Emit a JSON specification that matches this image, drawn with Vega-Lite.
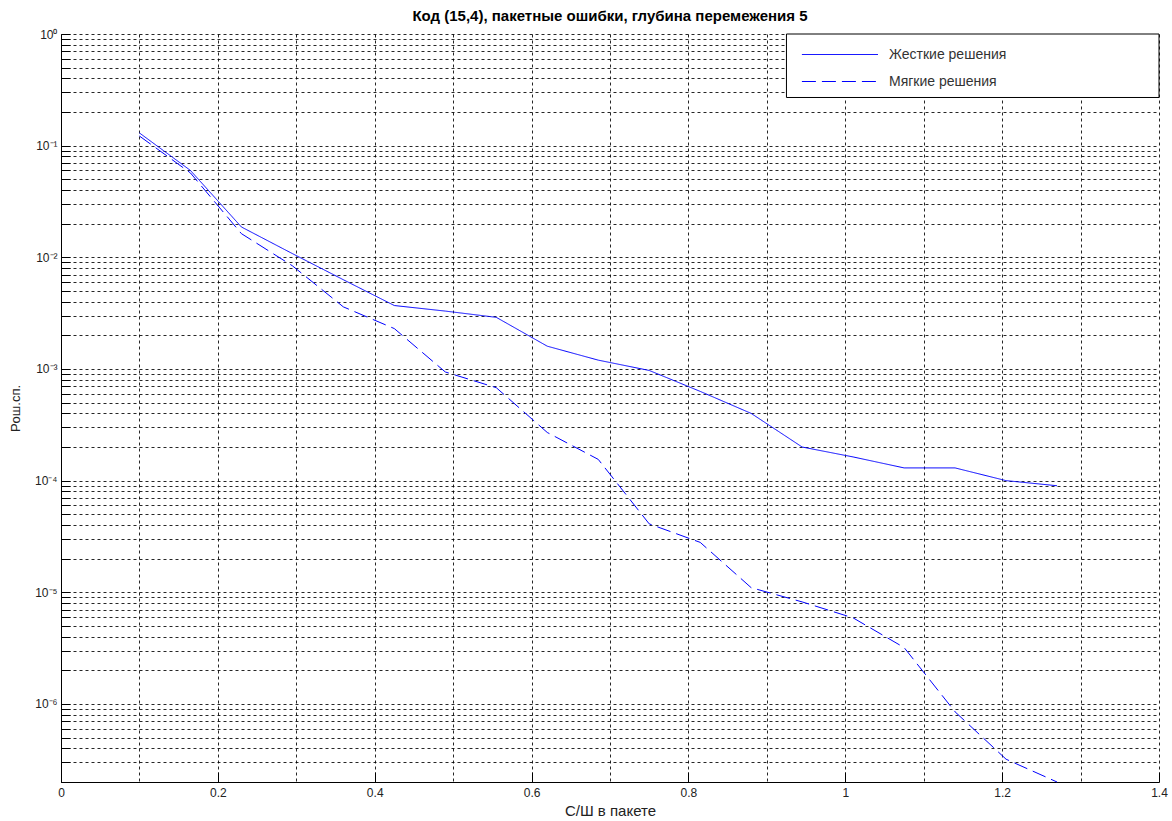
{
  "$schema": "https://vega.github.io/schema/vega-lite/v6.json",
  "width": 1098,
  "height": 748,
  "autosize": "none",
  "padding": {"left": 61, "top": 34, "right": 13, "bottom": 39},
  "background": "white",
  "title": {
    "text": "Код (15,4), пакетные ошибки, глубина перемежения 5",
    "font": "Liberation Sans",
    "fontSize": 15,
    "fontWeight": "bold",
    "color": "#000000",
    "anchor": "middle",
    "offset": 4
  },
  "config": {
    "view": {"stroke": null},
    "font": "Liberation Sans"
  },
  "data": {
    "values": [
      {"snr": 0.1, "p": 0.13, "decision": "Жесткие решения"},
      {"snr": 0.165, "p": 0.06, "decision": "Жесткие решения"},
      {"snr": 0.23, "p": 0.0187, "decision": "Жесткие решения"},
      {"snr": 0.295, "p": 0.0108, "decision": "Жесткие решения"},
      {"snr": 0.36, "p": 0.0063, "decision": "Жесткие решения"},
      {"snr": 0.425, "p": 0.0037, "decision": "Жесткие решения"},
      {"snr": 0.49, "p": 0.0033, "decision": "Жесткие решения"},
      {"snr": 0.555, "p": 0.0029, "decision": "Жесткие решения"},
      {"snr": 0.62, "p": 0.0016, "decision": "Жесткие решения"},
      {"snr": 0.685, "p": 0.0012, "decision": "Жесткие решения"},
      {"snr": 0.75, "p": 0.00097, "decision": "Жесткие решения"},
      {"snr": 0.815, "p": 0.00063, "decision": "Жесткие решения"},
      {"snr": 0.88, "p": 0.0004, "decision": "Жесткие решения"},
      {"snr": 0.945, "p": 0.0002, "decision": "Жесткие решения"},
      {"snr": 1.01, "p": 0.000163, "decision": "Жесткие решения"},
      {"snr": 1.075, "p": 0.00013, "decision": "Жесткие решения"},
      {"snr": 1.14, "p": 0.00013, "decision": "Жесткие решения"},
      {"snr": 1.205, "p": 0.0001, "decision": "Жесткие решения"},
      {"snr": 1.27, "p": 0.00009, "decision": "Жесткие решения"},
      {"snr": 0.1, "p": 0.122, "decision": "Мягкие решения"},
      {"snr": 0.165, "p": 0.057, "decision": "Мягкие решения"},
      {"snr": 0.23, "p": 0.0163, "decision": "Мягкие решения"},
      {"snr": 0.295, "p": 0.0084, "decision": "Мягкие решения"},
      {"snr": 0.36, "p": 0.0036, "decision": "Мягкие решения"},
      {"snr": 0.425, "p": 0.0023, "decision": "Мягкие решения"},
      {"snr": 0.49, "p": 0.00094, "decision": "Мягкие решения"},
      {"snr": 0.555, "p": 0.00068, "decision": "Мягкие решения"},
      {"snr": 0.62, "p": 0.00027, "decision": "Мягкие решения"},
      {"snr": 0.685, "p": 0.000155, "decision": "Мягкие решения"},
      {"snr": 0.75, "p": 0.000041, "decision": "Мягкие решения"},
      {"snr": 0.815, "p": 0.000028, "decision": "Мягкие решения"},
      {"snr": 0.88, "p": 0.000011, "decision": "Мягкие решения"},
      {"snr": 0.945, "p": 0.0000082, "decision": "Мягкие решения"},
      {"snr": 1.01, "p": 0.0000059, "decision": "Мягкие решения"},
      {"snr": 1.075, "p": 0.0000032, "decision": "Мягкие решения"},
      {"snr": 1.14, "p": 0.00000085, "decision": "Мягкие решения"},
      {"snr": 1.205, "p": 0.00000032, "decision": "Мягкие решения"},
      {"snr": 1.27, "p": 0.0000002, "decision": "Мягкие решения"}
    ]
  },
  "layer": [
    {
      "data": {"values": [{"box": "legend"}]},
      "mark": {"type": "rect", "fill": "#ffffff", "stroke": "#000000", "strokeWidth": 1},
      "encoding": {
        "x": {"datum": 0.925, "type": "quantitative"},
        "x2": {"datum": 1.4},
        "y": {"datum": 1, "type": "quantitative"},
        "y2": {"datum": 0.27}
      }
    },
    {
      "mark": {"type": "line", "strokeWidth": 1, "interpolate": "linear"},
      "encoding": {
        "x": {
          "field": "snr",
          "type": "quantitative",
          "scale": {"domain": [0, 1.4], "nice": false, "zero": false},
          "axis": {
            "values": [0, 0.05, 0.1, 0.15, 0.2, 0.25, 0.3, 0.35, 0.4, 0.45, 0.5, 0.55, 0.6, 0.65, 0.7, 0.75, 0.8, 0.85, 0.9, 0.95, 1, 1.05, 1.1, 1.15, 1.2, 1.25, 1.3, 1.35, 1.4],
            "labelExpr": "abs(datum.value * 5 - round(datum.value * 5)) < 0.001 ? format(datum.value, '~g') : ''",
            "labelOverlap": false,
            "labelFlush": false,
            "labelFontSize": 12,
            "labelColor": "#222222",
            "labelPadding": 15,
            "grid": true,
            "gridColor": "#000000",
            "gridDash": [3, 3],
            "gridOpacity": 0.85,
            "gridWidth": 1,
            "domainColor": "#000000",
            "domainWidth": 1,
            "tickColor": "#000000",
            "tickSize": -10,
            "tickOpacity": {"condition": {"test": "abs(datum.value * 5 - round(datum.value * 5)) < 0.001", "value": 1}, "value": 0},
            "title": "С/Ш в пакете",
            "titleFontSize": 15,
            "titleFontWeight": "normal",
            "titleColor": "#222222",
            "titlePadding": 5
          }
        },
        "y": {
          "field": "p",
          "type": "quantitative",
          "scale": {"type": "log", "domain": [2e-7, 1], "nice": false},
          "axis": {
            "values": [1, 0.9, 0.8, 0.7, 0.6, 0.5, 0.4, 0.3, 0.2, 0.1, 0.09, 0.08, 0.07, 0.06, 0.05, 0.04, 0.03, 0.02, 0.01, 0.009, 0.008, 0.007, 0.006, 0.005, 0.004, 0.003, 0.002, 0.001, 0.0009, 0.0008, 0.0007, 0.0006, 0.0005, 0.0004, 0.0003, 0.0002, 0.0001, 9e-5, 8e-5, 7e-5, 6e-5, 5e-5, 4e-5, 3e-5, 2e-5, 1e-5, 9e-6, 8e-6, 7e-6, 6e-6, 5e-6, 4e-6, 3e-6, 2e-6, 1e-6, 9e-7, 8e-7, 7e-7, 6e-7, 5e-7, 4e-7, 3e-7, 2e-7],
            "labelExpr": "abs(log(datum.value) / LN10 - round(log(datum.value) / LN10)) < 0.001 ? (round(log(datum.value) / LN10) == 0 ? '10⁰' : '10⁻' + ['⁰', '¹', '²', '³', '⁴', '⁵', '⁶'][-round(log(datum.value) / LN10)]) : ''",
            "labelOverlap": false,
            "labelFontSize": 12,
            "labelColor": "#222222",
            "labelPadding": 13,
            "grid": true,
            "gridColor": "#000000",
            "gridDash": [3, 3],
            "gridOpacity": 0.85,
            "gridWidth": 1,
            "domainColor": "#000000",
            "domainWidth": 1,
            "tickColor": "#000000",
            "tickSize": -9,
            "title": "Pош.сп.",
            "titleFontSize": 13,
            "titleFontWeight": "normal",
            "titleColor": "#222222",
            "titlePadding": 12
          }
        },
        "color": {
          "field": "decision",
          "type": "nominal",
          "sort": ["Жесткие решения", "Мягкие решения"],
          "scale": {"domain": ["Жесткие решения", "Мягкие решения"], "range": ["#0000ff", "#0000ff"]},
          "legend": {
            "title": null,
            "orient": "none",
            "legendX": 740,
            "legendY": 12,
            "padding": 0,
            "symbolType": "M-1,0H9",
            "symbolSize": 231,
            "symbolStrokeWidth": 1,
            "labelFontSize": 14,
            "labelColor": "#333333",
            "labelOffset": 71,
            "rowPadding": 11
          }
        },
        "strokeDash": {
          "field": "decision",
          "type": "nominal",
          "sort": ["Жесткие решения", "Мягкие решения"],
          "scale": {"domain": ["Жесткие решения", "Мягкие решения"], "range": [[1, 0], [14, 6]]},
          "legend": {
            "title": null,
            "orient": "none",
            "legendX": 740,
            "legendY": 12,
            "padding": 0,
            "symbolType": "M-1,0H9",
            "symbolSize": 231,
            "symbolStrokeWidth": 1,
            "labelFontSize": 14,
            "labelColor": "#333333",
            "labelOffset": 71,
            "rowPadding": 11
          }
        }
      }
    }
  ]
}
